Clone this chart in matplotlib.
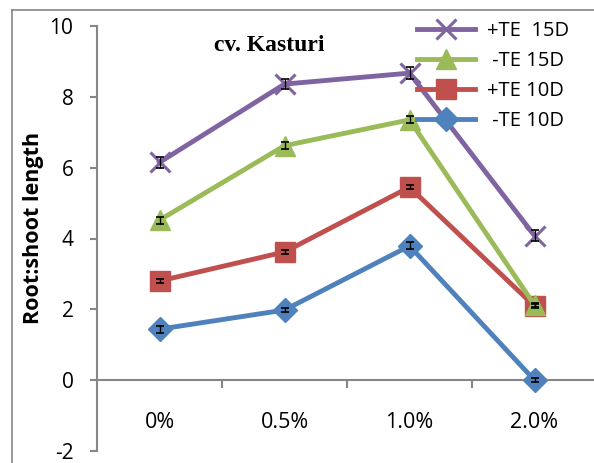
import matplotlib
matplotlib.use("Agg")
import matplotlib.pyplot as plt
from matplotlib.lines import Line2D

categories = ["0%", "0.5%", "1.0%", "2.0%"]
te15_plus = [6.15, 8.36, 8.67, 4.08]
te15_minus = [4.52, 6.62, 7.35, 2.12]
te10_plus = [2.80, 3.62, 5.45, 2.09]
te10_minus = [1.44, 1.98, 3.79, 0.0]
err15_plus = [0.15, 0.15, 0.18, 0.15]
err15_minus = [0.1, 0.1, 0.1, 0.05]
err10_plus = [0.05, 0.05, 0.05, 0.05]
err10_minus = [0.1, 0.05, 0.1, 0.05]
yticks = [-2, 0, 2, 4, 6, 8, 10]

W, H = 594, 463
fig = plt.figure(figsize=(W / 100, H / 100), dpi=100)
ax = fig.add_axes([97 / W, (H - 451) / H, 500 / W, (451 - 26) / H])

gray = "#868686"
fam = "Open Sans"
x = list(range(len(categories)))
series = [
    (te10_minus, err10_minus, "#4F81BD", "D", 12, "-TE 10D"),
    (te10_plus, err10_plus, "#C0504D", "s", 14, "+TE 10D"),
    (te15_minus, err15_minus, "#9BBB59", "^", 15, "-TE 15D"),
    (te15_plus, err15_plus, "#8064A2", "x", 14, "+TE  15D"),
]
handles = {}
for vals, err, col, mk, ms, lab in series:
    ax.errorbar(x, vals, yerr=err, fmt="none", ecolor="black", elinewidth=1,
                capsize=3, capthick=1.2, zorder=4)
    mew = 2.2 if mk == "x" else 1
    (h,) = ax.plot(x, vals, color=col, lw=3.5, marker=mk, ms=ms, mew=mew,
                   mfc=col, mec=col, label=lab, zorder=3)
    handles[lab] = h

ax.set_xlim(-0.5, 3.5)
ax.set_ylim(-2, 10)
ax.set_yticks(yticks)
ax.set_yticklabels([str(v) for v in yticks], fontsize=15, family=fam)
ax.tick_params(axis="y", length=5, width=1.5, color=gray, pad=12)

ax.spines["bottom"].set_position(("data", 0))
ax.spines["bottom"].set_color(gray)
ax.spines["bottom"].set_linewidth(1.5)
ax.set_xticks(x)
ax.set_xticklabels(categories, fontsize=15.5, family=fam)
ax.set_xticks([0.5, 1.5, 2.5], minor=True)
ax.tick_params(axis="x", which="major", length=0, pad=23)
ax.tick_params(axis="x", which="minor", length=6, width=1.5, color=gray)
for s in ["top", "right"]:
    ax.spines[s].set_visible(False)
ax.spines["left"].set_color(gray)
ax.spines["left"].set_linewidth(1.5)

ax.set_ylabel("Root:shoot length", fontsize=15.5, fontweight="bold", family=fam)
ax.yaxis.set_label_coords((44 - 97) / 500, (451 - 228) / (451 - 26))
ax.text(0.88, 9.46, "cv. Kasturi", fontsize=17, fontweight="bold",
        family="Liberation Serif", ha="center", va="center")

order = ["+TE  15D", "-TE 15D", "+TE 10D", "-TE 10D"]
labels_disp = ["+TE  15D", " -TE 15D", "+TE 10D", " -TE 10D"]
leg = ax.legend([handles[k] for k in order], labels_disp, loc="upper left",
                bbox_to_anchor=(417 / W, 1 - 21 / H), bbox_transform=fig.transFigure,
                frameon=False, prop={"family": fam, "size": 14.5},
                handlelength=2.9, labelspacing=0.5, handletextpad=0.6,
                borderaxespad=0, borderpad=0)

fig.add_artist(Line2D([12 / W, 12 / W], [0, 1 - 10 / H], color=gray, lw=1.2,
                      transform=fig.transFigure))
fig.add_artist(Line2D([12 / W, 1], [1 - 10 / H, 1 - 10 / H], color=gray, lw=1.2,
                      transform=fig.transFigure))

fig.savefig("out.png", dpi=100)
